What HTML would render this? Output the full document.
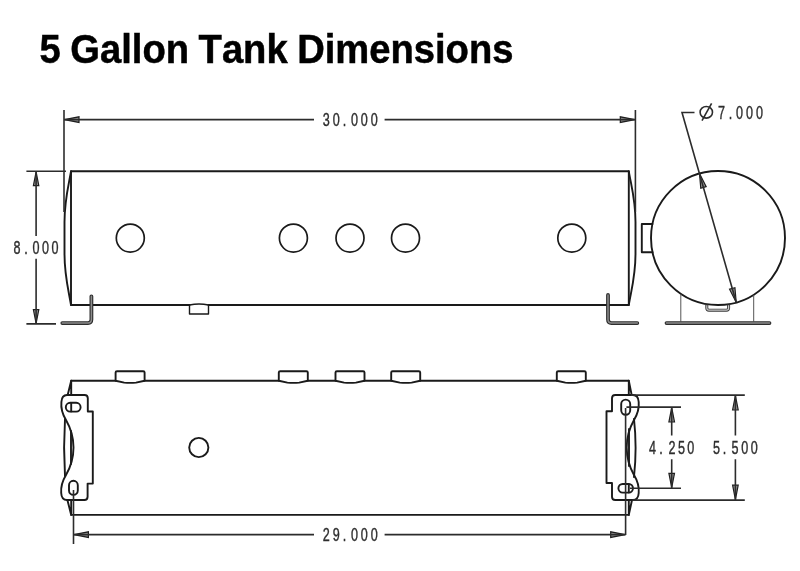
<!DOCTYPE html>
<html lang="en">
<head>
<meta charset="utf-8">
<title>5 Gallon Tank Dimensions</title>
<style>
html,body{margin:0;padding:0;background:#fff;}
body{width:800px;height:571px;overflow:hidden;position:relative;}
svg{position:absolute;left:0;top:0;display:block;filter:grayscale(1);}
.title{font-family:"Liberation Sans",Arial,Helvetica,sans-serif;font-weight:700;font-size:41px;fill:#000;font-kerning:none;word-spacing:-1.2px;stroke:#000;stroke-width:0.5px;}
.dim{font-family:"Liberation Sans",Arial,Helvetica,sans-serif;font-size:18px;fill:#2e2e2e;stroke:#2e2e2e;stroke-width:0.4px;}
.o{fill:none;stroke:#1a1a1a;stroke-width:1.9;stroke-linejoin:round;stroke-linecap:round;}
.c{fill:none;stroke:#1a1a1a;stroke-width:1.7;}
.d{fill:none;stroke:#2c2c2c;stroke-width:1.6;}
.t{fill:none;stroke:#555;stroke-width:1;}
.a{fill:#969696;stroke:#1e1e1e;stroke-width:1.2;stroke-linejoin:miter;}
.b{fill:none;stroke:#2e2e2e;stroke-width:3.8;stroke-linejoin:round;stroke-linecap:round;}
.f{fill:none;stroke:#3a3a3a;stroke-width:3;stroke-linejoin:round;}
.fi{fill:none;stroke:#c8c8c8;stroke-width:1.2;stroke-linejoin:round;}
.bi{fill:none;stroke:#8c8c8c;stroke-width:1.5;stroke-linejoin:round;stroke-linecap:round;}
</style>
</head>
<body>
<svg width="800" height="571" viewBox="0 0 800 571">
<rect width="800" height="571" fill="#fff"/>
<text class="title" transform="translate(39.6,63.2) scale(0.931,1)">5 Gallon Tank Dimensions</text>

<!-- ===== SIDE VIEW ===== -->
<g id="side">
  <path class="o" d="M189.5,305 H71 V171.3 H628.8 V305 H208.5"/>
  <path class="o" d="M71,171.3 C68.5,186 64.5,200 64.5,222 V254 C64.5,276 68.5,290 71,305"/>
  <path class="o" d="M628.8,171.3 C631.3,186 635.5,200 635.5,222 V254 C635.5,276 631.3,290 628.8,305"/>
  <circle class="c" cx="130.3" cy="238.1" r="14"/>
  <circle class="c" cx="293.4" cy="238.1" r="14"/>
  <circle class="c" cx="350" cy="238.1" r="14"/>
  <circle class="c" cx="405.5" cy="238.1" r="14"/>
  <circle class="c" cx="571.8" cy="238.1" r="14"/>
  <path class="o" style="stroke-width:1.4" d="M189.5,305 V314 H208.5 V305 Q199,303 189.5,305"/>
  <!-- L brackets -->
  <path class="b" d="M62.3,323.1 H88 Q91.4,323.1 91.4,319.6 V296.3"/>
  <path class="bi" d="M62.3,323.1 H88 Q91.4,323.1 91.4,319.6 V296.3"/>
  <path class="b" d="M637.3,323.1 H611.5 Q608,323.1 608,319.6 V295"/>
  <path class="bi" d="M637.3,323.1 H611.5 Q608,323.1 608,319.6 V295"/>
</g>

<!-- ===== END VIEW ===== -->
<g id="end">
  <circle class="o" cx="718" cy="238" r="67"/>
  <path class="o" d="M652.5,224 H641.8 V252.2 H652.5"/>
  <path class="t" d="M680.8,294 V321.5 M753.7,295 V321.5"/>
  <path class="b" d="M666.5,323.1 H769.5"/>
  <path class="bi" d="M666.5,323.1 H769.5"/>
  <path class="f" d="M706.8,304.5 V308 Q706.8,310.2 709,310.2 H726.4 Q728.6,310.2 728.6,308 V304.5"/>
  <path class="fi" d="M706.8,305.3 V308 Q706.8,310.2 709,310.2 H726.4 Q728.6,310.2 728.6,308 V305.3"/>
</g>

<!-- ===== DIMENSIONS top ===== -->
<g id="dims1">
  <path class="a" d="M64.5,119.6 L79,116.8 V122.4 Z"/>
  <path class="a" d="M634.8,119.6 L620.3,116.8 V122.4 Z"/>
  <path class="a" d="M36.1,171.8 L33.4,185.6 H38.8 Z"/>
  <path class="a" d="M36.1,323.4 L33.4,309.6 H38.8 Z"/>
  <path class="a" d="M699.5,173.6 L700.78,188.21 L706.16,186.67 Z"/>
  <path class="a" d="M736.2,302.3 L729.54,289.23 L734.92,287.69 Z"/>
  <path class="d" d="M64,110 V212"/>
  <path class="d" d="M635.4,110 V212"/>
  <path class="d" d="M64,119.6 H314 M384.6,119.6 H635.4"/>
  <text class="dim" transform="scale(0.7,1)" x="461.14 475.28 489.78 501.57 515.28 529.57" y="126.3">30.000</text>

  <path class="d" d="M26.4,171.3 H66 M26.4,323.9 H56"/>
  <path class="d" d="M36.1,171.3 V236 M36.1,258.8 V323.9"/>
  <text class="dim" transform="scale(0.7,1)" x="19.28 34.64 46.42 59.85 73.57" y="254.4">8.000</text>

  <path class="d" d="M694.5,112.5 H682 L736.2,302.3"/>
  <ellipse class="d" cx="706.3" cy="112.3" rx="6.2" ry="5.8"/>
  <path class="d" d="M702,120.6 L711.6,103.4"/>
  <text class="dim" transform="scale(0.7,1)" x="1025.71 1041.07 1051.42 1065.71 1080.0" y="119.3">7.000</text>
</g>

<!-- ===== BOTTOM VIEW ===== -->
<g id="bottom">
  <!-- tank outline with fitting gaps -->
  <path class="o" d="M71.2,380.8 H115.6 M144.6,380.8 H278.7 M307.9,380.8 H335.4 M364.6,380.8 H391.2 M420.2,380.8 H557 M585.6,380.8 H628.8"/>
  <path class="o" d="M71.2,514.9 H628.8"/>
  <g id="fit">
    <path class="o" d="M115.6,380.8 V372.6 Q115.6,371.3 117,371.3 H143.2 Q144.6,371.3 144.6,372.6 V380.8 L136,382.6 Q130.1,383.2 124.2,382.6 Z"/>
  </g>
  <path class="o" transform="translate(163.2,0)" d="M115.6,380.8 V372.6 Q115.6,371.3 117,371.3 H143.2 Q144.6,371.3 144.6,372.6 V380.8 L136,382.6 Q130.1,383.2 124.2,382.6 Z"/>
  <path class="o" transform="translate(219.9,0)" d="M115.6,380.8 V372.6 Q115.6,371.3 117,371.3 H143.2 Q144.6,371.3 144.6,372.6 V380.8 L136,382.6 Q130.1,383.2 124.2,382.6 Z"/>
  <path class="o" transform="translate(275.6,0)" d="M115.6,380.8 V372.6 Q115.6,371.3 117,371.3 H143.2 Q144.6,371.3 144.6,372.6 V380.8 L136,382.6 Q130.1,383.2 124.2,382.6 Z"/>
  <path class="o" transform="translate(441.2,0)" d="M115.6,380.8 V372.6 Q115.6,371.3 117,371.3 H143.2 Q144.6,371.3 144.6,372.6 V380.8 L136,382.6 Q130.1,383.2 124.2,382.6 Z"/>
  <circle class="o" cx="198.8" cy="447.5" r="9.6"/>

  <!-- left end -->
  <path class="o" d="M71.2,380.8 V395 M71.2,380.8 L67.8,394.6"/>
  <path class="o" d="M71.2,514.9 V500 M71.2,514.9 L67.4,500"/>
  <path class="o" d="M65,419 Q63.2,447.5 65,476"/>
  <path class="o" d="M71,431 V464"/>
  <!-- left bracket -->
  <path class="o" d="M67,395 H84.5 Q87.8,395 87.8,398.3 V411.5 H92.8 V483.6 H87.6 V496.7 Q87.6,500 84.3,500 H67 Q61.5,500 61.2,493 Q60.5,484 66,475 Q73.5,462 73.5,447.5 Q73.5,433 66,420 Q60.5,411 61.4,402 Q61.8,395 67,395 Z"/>
  <rect class="o" x="65.8" y="402.8" width="14.8" height="8.8" rx="4.4"/>
  <path class="o" d="M71.2,403 V411.4"/>
  <rect class="o" x="69" y="480.8" width="8.8" height="14" rx="4.4"/>

  <!-- right end -->
  <path class="o" d="M628.8,380.8 V395 M628.8,380.8 L631.6,394.6"/>
  <path class="o" d="M628.8,514.9 V500 M628.8,514.9 L632,500"/>
  <path class="o" d="M634,419 Q637.2,447.5 634,477"/>
  <path class="o" d="M629,429 V466"/>
  <!-- right bracket -->
  <path class="o" d="M633,395 H615.3 Q612,395 612,398.3 V411.3 H606.5 V483 H612 V496.7 Q612,500 615.3,500 H633 Q638.3,500 638.7,493 Q639.5,484 634,475 Q626.7,462 626.7,447.5 Q626.7,433 634,420 Q639.5,411 638.7,402 Q638.3,395 633,395 Z"/>
  <rect class="o" x="621.2" y="399.6" width="9" height="15.2" rx="4.5"/>
  <rect class="o" x="618.4" y="484" width="14.6" height="8.6" rx="4.3"/>
  <path class="o" d="M628.8,484.2 V492.4"/>
</g>

<!-- ===== DIMENSIONS bottom ===== -->
<g id="dims2">
  <path class="a" d="M74,534.6 L88.4,531.8 V537.4 Z"/>
  <path class="a" d="M625.1,534.6 L610.7,531.8 V537.4 Z"/>
  <path class="a" d="M735.4,395.6 L732.6,410 H738.2 Z"/>
  <path class="a" d="M735.4,499.6 L732.6,485.2 H738.2 Z"/>
  <path class="a" d="M671.7,407.6 L668.9,422 H674.5 Z"/>
  <path class="a" d="M671.7,487.7 L668.9,473.3 H674.5 Z"/>
  <path class="d" d="M73.5,490 V544"/>
  <path class="d" d="M625.6,408 V535"/>
  <path class="d" d="M73.5,534.6 H314 M384.6,534.6 H625.6"/>
  <text class="dim" transform="scale(0.7,1)" x="461.14 475.28 489.78 501.57 515.28 529.57" y="541.5">29.000</text>

  <path class="d" d="M631,395.1 H744.8 M632.5,500.1 H744.8"/>
  <path class="d" d="M735.4,395.1 V435.6 M735.4,459.2 V500.1"/>
  <text class="dim" transform="scale(0.7,1)" x="1018.42 1032.5 1045.14 1059.0 1072.42" y="454.5">5.500</text>

  <path class="d" d="M626.4,407.1 H681 M630,488.2 H681"/>
  <path class="d" d="M671.7,407.1 V435.6 M671.7,459.2 V488.2"/>
  <text class="dim" transform="scale(0.7,1)" x="927.28 941.93 954.85 968.42 981.71" y="454.5">4.250</text>
</g>
</svg>
</body>
</html>
